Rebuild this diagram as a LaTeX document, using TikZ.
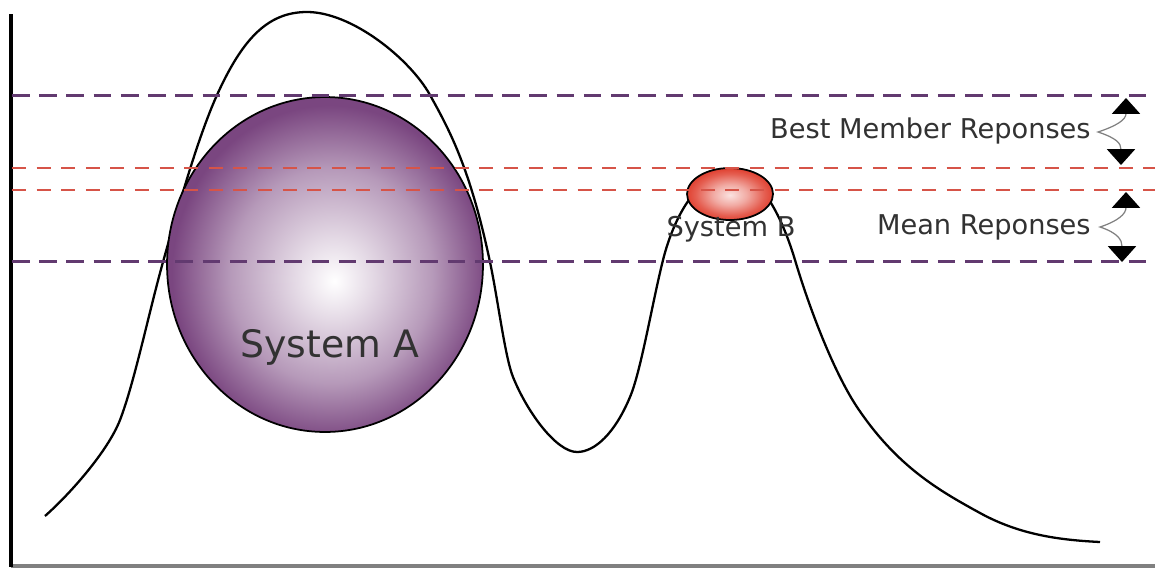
\documentclass[tikz,border=0pt]{standalone}
\usepackage{fontspec}
\setmainfont{DejaVu Sans}
\usepackage{tikz}
\usetikzlibrary{shapes.geometric,arrows.meta}
\usepackage{xcolor}

\definecolor{sysPurple}{RGB}{122,70,128}
\definecolor{sysRed}{RGB}{224,66,50}
\definecolor{lvlPurple}{RGB}{98,58,112}
\definecolor{lvlRed}{RGB}{214,84,72}
\definecolor{txtGray}{RGB}{50,50,50}

\pgfdeclareradialshading{shadeA}{\pgfpoint{1.5bp}{-2.5bp}}{color(0bp)=(white); color(6bp)=(sysPurple!20); color(16bp)=(sysPurple!55); color(25bp)=(sysPurple); color(50bp)=(sysPurple)}
\pgfdeclareradialshading{shadeB}{\pgfpoint{0bp}{-1bp}}{color(0bp)=(sysRed!15); color(10bp)=(sysRed!45); color(20bp)=(sysRed!85); color(25bp)=(sysRed); color(50bp)=(sysRed)}

\begin{document}
\begin{tikzpicture}[x=0.02cm, y=-0.02cm]
  \tikzstyle{axis} = [line width=2.2pt]
  \tikzstyle{baseaxis} = [line width=1.8pt, gray]
  \tikzstyle{landscape} = [line width=1.3pt, black]
  \tikzstyle{lvlP} = [line width=1.7pt, lvlPurple, dash pattern=on 10pt off 5.5pt]
  \tikzstyle{lvlR} = [line width=1.4pt, lvlRed, dash pattern=on 8pt off 6pt]
  \tikzstyle{sysbox} = [ellipse, draw, line width=1pt, inner sep=0pt]
  \tikzstyle{lab} = [text=txtGray, inner sep=0pt]
  \tikzstyle{curly} = [gray, line width=0.7pt, {Triangle[width=16pt,length=9pt,color=black]}-{Triangle[width=16pt,length=9pt,color=black]}]
  \useasboundingbox (0,0) rectangle (1155,569);
  \fill[white] (0,0) rectangle (1155,569);

  \draw[baseaxis] (11,566) -- (1155,566);
  \draw[axis] (11,14) -- (11,567);

  % response landscape
  \draw[landscape] (45,516) .. controls (70,494) and (108,451) .. (120,420)
    .. controls (134,384) and (149,312) .. (163,262)
    .. controls (181,197) and (199,135) .. (217,95)
    .. controls (242,40) and (267,12) .. (307,12)
    .. controls (352,12) and (410,59) .. (430,95)
    .. controls (450,131) and (470,168) .. (490,262)
    .. controls (498,300) and (505,357) .. (513,377)
    .. controls (528,414) and (557,452) .. (577,452)
    .. controls (595,452) and (615,433) .. (630,397)
    .. controls (641,371) and (652,304) .. (663,260)
    .. controls (675,212) and (701,172) .. (731,172)
    .. controls (761,172) and (783,220) .. (795,260)
    .. controls (813,320) and (837,377) .. (857,407)
    .. controls (897,467) and (940,491) .. (980,513)
    .. controls (1020,535) and (1060,540) .. (1100,542);

  \node [sysbox, minimum width=6.32cm, minimum height=6.70cm, shading=shadeA] (sysA) at (325,264.5) {};
  \node [sysbox, minimum width=1.72cm, minimum height=1.04cm, shading=shadeB] (sysB) at (730,194) {};

  \foreach \y/\s in {95/lvlP, 261/lvlP, 168/lvlR, 190/lvlR}
    \draw[\s] (12,\y) -- (1155,\y);

  \node [lab, font=\fontsize{21.5}{26}\selectfont] (labA) at (330,347) {System A};
  \node [lab, font=\fontsize{15.5}{19}\selectfont] (labB) at (731,229) {System B};
  \node [lab, anchor=east, font=\fontsize{15.5}{19}\selectfont] (bestLab) at (1091,131) {Best Member Reponses};
  \node [lab, anchor=east, font=\fontsize{15.5}{19}\selectfont] (meanLab) at (1091,227) {Mean Reponses};

  \coordinate (bestTail) at (1098,132);
  \coordinate (bestHi) at (1126,98);
  \coordinate (bestLo) at (1121,165);
  \coordinate (meanTail) at (1100,227);
  \coordinate (meanHi) at (1126,192);
  \coordinate (meanLo) at (1122,262);
  \draw[curly] (bestHi) .. controls +(0,22) and +(18,-6) .. (bestTail) .. controls +(18,6) and +(0,-22) .. (bestLo);
  \draw[curly] (meanHi) .. controls +(0,22) and +(18,-6) .. (meanTail) .. controls +(18,6) and +(0,-22) .. (meanLo);
\end{tikzpicture}
\end{document}
